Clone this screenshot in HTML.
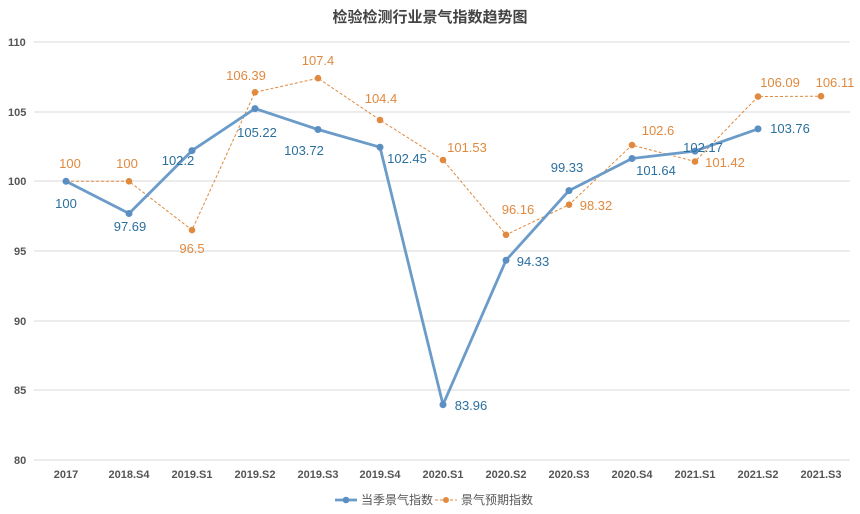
<!DOCTYPE html>
<html><head><meta charset="utf-8"><style>
body{margin:0;background:#fff;}
svg{display:block;font-family:"Liberation Sans","Noto Sans CJK SC",sans-serif;}
.ax{font-size:11px;font-weight:bold;fill:#555;}
.b{font-size:13px;fill:#2a6f9e;text-anchor:middle;}
.o{font-size:13px;fill:#e0893f;text-anchor:middle;}
</style></head><body>
<svg width="860" height="514" viewBox="0 0 860 514">
<text x="430" y="22" text-anchor="middle" font-size="15" font-weight="bold" fill="#444">检验检测行业景气指数趋势图</text>
<g stroke="#d9d9d9" stroke-width="1">
<line x1="34" x2="850" y1="42" y2="42"/><line x1="34" x2="850" y1="112" y2="112"/>
<line x1="34" x2="850" y1="181" y2="181"/><line x1="34" x2="850" y1="251" y2="251"/>
<line x1="34" x2="850" y1="321" y2="321"/><line x1="34" x2="850" y1="390" y2="390"/>
<line x1="34" x2="850" y1="460" y2="460"/>
</g>
<g class="ax">
<text x="8" y="46">110</text><text x="8" y="116">105</text><text x="8" y="185">100</text>
<text x="14" y="255">95</text><text x="14" y="325">90</text><text x="14" y="394">85</text><text x="14" y="464">80</text>
</g>
<g class="ax" text-anchor="middle">
<text x="66" y="478">2017</text><text x="129" y="478">2018.S4</text><text x="192" y="478">2019.S1</text>
<text x="255" y="478">2019.S2</text><text x="318" y="478">2019.S3</text><text x="380" y="478">2019.S4</text>
<text x="443" y="478">2020.S1</text><text x="506" y="478">2020.S2</text><text x="569" y="478">2020.S3</text>
<text x="632" y="478">2020.S4</text><text x="695" y="478">2021.S1</text><text x="758" y="478">2021.S2</text>
<text x="821" y="478">2021.S3</text>
</g>
<polyline fill="none" stroke="#e0893f" stroke-width="1" stroke-dasharray="3,2" points="66,181.3 129,181.3 192,230.1 255,92.3 318,78.2 380,120 443,160 506,234.8 569,204.7 632,145.1 695,161.5 758,96.6 821,96.2"/>
<g fill="#e0893f">
<circle cx="66" cy="181.3" r="3.3"/><circle cx="129" cy="181.3" r="3.3"/><circle cx="192" cy="230.1" r="3.3"/><circle cx="255" cy="92.3" r="3.3"/><circle cx="318" cy="78.2" r="3.3"/><circle cx="380" cy="120" r="3.3"/><circle cx="443" cy="160" r="3.3"/><circle cx="506" cy="234.8" r="3.3"/><circle cx="569" cy="204.7" r="3.3"/><circle cx="632" cy="145.1" r="3.3"/><circle cx="695" cy="161.5" r="3.3"/><circle cx="758" cy="96.6" r="3.3"/><circle cx="821" cy="96.2" r="3.3"/>
</g>
<polyline fill="none" stroke="#6a9bc9" stroke-width="2.8" stroke-linejoin="round" points="66,181.3 129,213.5 192,150.6 255,108.6 318,129.5 380,147.2 443,404.7 506,260.3 569,190.6 632,158.5 695,151.1 758,128.9"/>
<g fill="#5b8fc2">
<circle cx="66" cy="181.3" r="3.5"/><circle cx="129" cy="213.5" r="3.5"/><circle cx="192" cy="150.6" r="3.5"/><circle cx="255" cy="108.6" r="3.5"/><circle cx="318" cy="129.5" r="3.5"/><circle cx="380" cy="147.2" r="3.5"/><circle cx="443" cy="404.7" r="3.5"/><circle cx="506" cy="260.3" r="3.5"/><circle cx="569" cy="190.6" r="3.5"/><circle cx="632" cy="158.5" r="3.5"/><circle cx="695" cy="151.1" r="3.5"/><circle cx="758" cy="128.9" r="3.5"/>
</g>
<g class="b">
<text x="66" y="208">100</text><text x="130" y="231">97.69</text><text x="178" y="165">102.2</text>
<text x="257" y="137">105.22</text><text x="304" y="155">103.72</text><text x="407" y="163">102.45</text>
<text x="471" y="410">83.96</text><text x="533" y="266">94.33</text><text x="567" y="172">99.33</text>
<text x="656" y="175">101.64</text><text x="703" y="152">102.17</text><text x="790" y="133">103.76</text>
</g>
<g class="o">
<text x="70" y="168">100</text><text x="127" y="168">100</text><text x="192" y="253">96.5</text>
<text x="246" y="80">106.39</text><text x="318" y="65">107.4</text><text x="381" y="103">104.4</text>
<text x="467" y="152">101.53</text><text x="518" y="214">96.16</text><text x="596" y="210">98.32</text>
<text x="658" y="135">102.6</text><text x="725" y="167">101.42</text><text x="780" y="87">106.09</text>
<text x="835" y="87">106.11</text>
</g>
<line x1="335" x2="357" y1="500" y2="500" stroke="#6a9bc9" stroke-width="2.8"/>
<circle cx="346" cy="500" r="3.3" fill="#5b8fc2"/>
<text x="361" y="504" font-size="12" fill="#555">当季景气指数</text>
<line x1="435" x2="457" y1="500" y2="500" stroke="#e0893f" stroke-width="1" stroke-dasharray="3,2"/>
<circle cx="446" cy="500" r="3" fill="#e0893f"/>
<text x="461" y="504" font-size="12" fill="#555">景气预期指数</text>
</svg>
</body></html>
